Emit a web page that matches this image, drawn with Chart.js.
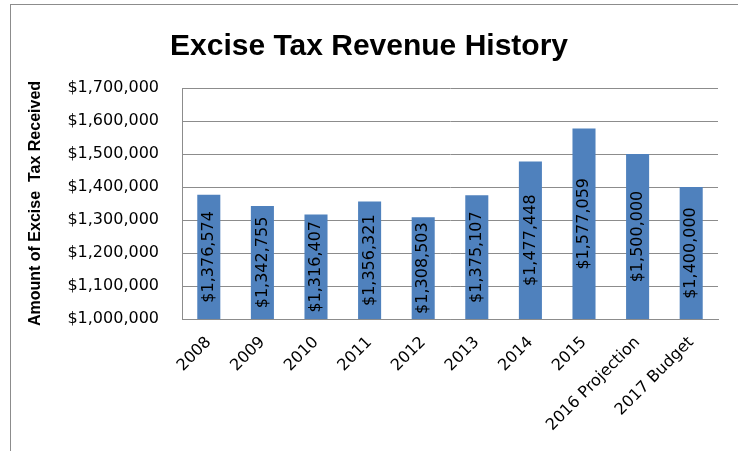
<!DOCTYPE html>
<html>
<head>
<meta charset="utf-8">
<title>Excise Tax Revenue History</title>
<script src="https://cdn.jsdelivr.net/npm/chart.js@4.4.1/dist/chart.umd.min.js"></script>
<style>
    html, body { margin: 0; padding: 0; background: #fff; }
    #wrap { position: relative; width: 738px; height: 451px; }
    #frame {
        position: absolute; left: 10px; top: 4px; right: 0; bottom: 0;
        border-left: 1px solid #8c8c8c; border-top: 1px solid #8c8c8c;
        pointer-events: none;
    }
</style>
</head>
<body>
<div id="wrap">
    <canvas id="chart" width="738" height="451"></canvas>
    <div id="frame"></div>
</div>
<script>
const years = ['2008', '2009', '2010', '2011', '2012', '2013', '2014', '2015', '2016 Projection', '2017 Budget'];
const revenue = [1376574, 1342755, 1316407, 1356321, 1308503, 1375107, 1477448, 1577059, 1500000, 1400000];
const axisMin = 1000000;
const axisMax = 1700000;
const axisStep = 100000;

const gridGray = '#8c8c8c';
const barBlue = '#4f81bd';

function money(v) {
    return '$' + Number(v).toLocaleString('en-US');
}

// values written sideways in the middle of the visible part of each bar
const barValueLabels = {
    id: 'barValueLabels',
    afterDatasetsDraw(chart) {
        const ctx = chart.ctx;
        const meta = chart.getDatasetMeta(0);
        const floor = chart.chartArea.bottom;
        ctx.save();
        ctx.font = '16px "DejaVu Sans"';
        ctx.fillStyle = '#000';
        ctx.textAlign = 'center';
        ctx.textBaseline = 'middle';
        meta.data.forEach((bar, i) => {
            const mid = (bar.y + Math.min(bar.base, floor)) / 2;
            ctx.save();
            ctx.translate(bar.x, mid);
            ctx.rotate(-Math.PI / 2);
            ctx.fillText(money(revenue[i]), 0, 0);
            ctx.restore();
        });
        ctx.restore();
    }
};

new Chart(document.getElementById('chart'), {
    type: 'bar',
    data: {
        labels: years,
        datasets: [{
            data: revenue,
            backgroundColor: barBlue,
            borderWidth: 0,
            categoryPercentage: 1,
            barPercentage: 0.43
        }]
    },
    options: {
        responsive: false,
        animation: false,
        layout: { padding: { top: 7, left: 20, right: 20, bottom: 0 } },
        plugins: {
            legend: { display: false },
            tooltip: { enabled: false },
            title: {
                display: true,
                text: 'Excise Tax Revenue History',
                color: '#000',
                font: { family: '"Liberation Sans"', size: 30, weight: 'bold' },
                padding: { top: 22, bottom: 23 }
            }
        },
        scales: {
            x: {
                grid: { display: false, drawTicks: false },
                border: { color: gridGray, width: 1 },
                ticks: {
                    color: '#000',
                    font: { family: '"DejaVu Sans"', size: 16 },
                    minRotation: 45,
                    maxRotation: 45,
                    padding: 14,
                    autoSkip: false
                },
                afterFit(scale) { scale.height = 132; }
            },
            y: {
                min: axisMin,
                max: axisMax,
                grid: { color: gridGray, lineWidth: 1, drawTicks: false },
                border: { color: gridGray, width: 1 },
                ticks: {
                    stepSize: axisStep,
                    color: '#000',
                    font: { family: '"DejaVu Sans"', size: 16 },
                    padding: 23,
                    callback: v => money(v)
                },
                title: {
                    display: true,
                    text: 'Amount of Excise  Tax Received',
                    color: '#000',
                    font: { family: '"Liberation Sans"', size: 16, weight: 'bold' },
                    padding: { top: 6, bottom: 0 }
                },
                afterFit(scale) { scale.width = 162; }
            }
        }
    },
    plugins: [barValueLabels]
});
</script>
</body>
</html>
